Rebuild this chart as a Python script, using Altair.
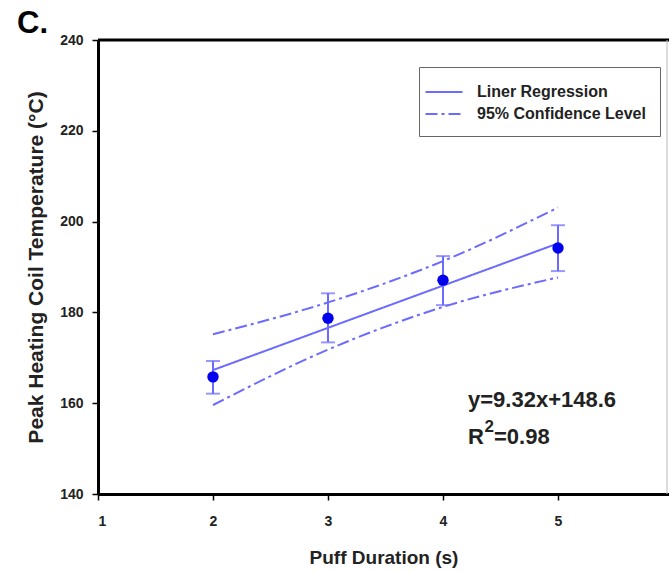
import altair as alt
import pandas as pd

# ---- data ----
puff_s = [2, 3, 4, 5]
temp_mean = [165.8, 178.7, 187.1, 194.2]
temp_lo = [162.1, 173.4, 181.6, 189.1]
temp_hi = [169.3, 184.2, 192.4, 199.2]

reg_x = [2, 5]
reg_y = [167.3, 195.2]

band_x = [2, 3, 4, 5]
band_upper = [175.2, 182.2, 191.3, 203.1]
band_lower = [159.6, 171.8, 181.2, 187.7]

series_names = ["Liner Regression", "95% Confidence Level"]
x_ticks = [1, 2, 3, 4, 5]
y_ticks = [140, 160, 180, 200, 220, 240]
y_top = [240]

# ---- tables ----
pts = pd.DataFrame({"x": puff_s, "y": temp_mean, "lo": temp_lo, "hi": temp_hi})
rows = []
for xv, yv in zip(reg_x, reg_y):
    rows.append({"x": xv, "y": yv, "series": series_names[0], "part": "reg"})
for xv, yv in zip(band_x, band_upper):
    rows.append({"x": xv, "y": yv, "series": series_names[1], "part": "upper"})
for xv, yv in zip(band_x, band_lower):
    rows.append({"x": xv, "y": yv, "series": series_names[1], "part": "lower"})
lines = pd.DataFrame(rows)
top_df = pd.DataFrame({"y": y_top})

W, H = 571, 454
FONT = "Liberation Sans"
LINE_C = "#6b6bff"
PT_C = "#0000ee"

xs = alt.Scale(domain=[1, 1 + W / 115.0], nice=False, zero=False)
ys = alt.Scale(domain=[140, 240], nice=False, zero=False)

x_enc = alt.X("x:Q", scale=xs, axis=alt.Axis(values=x_ticks, title="Puff Duration (s)", format="d"))
y_enc = alt.Y("y:Q", scale=ys, axis=alt.Axis(values=y_ticks, title="Peak Heating Coil Temperature (°C)"))

line_layer = alt.Chart(lines).mark_line(strokeWidth=2, color=LINE_C, interpolate="monotone").encode(
    x=x_enc,
    y=y_enc,
    detail="part:N",
    strokeDash=alt.StrokeDash(
        "series:N",
        scale=alt.Scale(domain=series_names, range=[[1, 0], [12, 4, 3, 4]]),
        legend=alt.Legend(
            title=None,
            orient="none",
            legendX=321,
            legendY=27,
            symbolType="M-1.85,0H1.85",
            symbolSize=400,
            symbolStrokeWidth=2,
            symbolStrokeColor=LINE_C,
            labelFont=FONT,
            labelFontSize=16,
            labelFontWeight="bold",
            labelColor="#222222",
            labelOffset=22,
            labelLimit=300,
            padding=14,
            rowPadding=3,
            strokeColor="#666666",
            fillColor="white",
        ),
    ),
)

err_rule = alt.Chart(pts).mark_rule(color=LINE_C, strokeWidth=2).encode(
    x=alt.X("x:Q", scale=xs), y=alt.Y("lo:Q", scale=ys), y2="hi:Q"
)
cap_lo = alt.Chart(pts).mark_tick(color=LINE_C, orient="horizontal", size=14, thickness=2).encode(
    x=alt.X("x:Q", scale=xs), y=alt.Y("lo:Q", scale=ys)
)
cap_hi = alt.Chart(pts).mark_tick(color=LINE_C, orient="horizontal", size=14, thickness=2).encode(
    x=alt.X("x:Q", scale=xs), y=alt.Y("hi:Q", scale=ys)
)
points = alt.Chart(pts).mark_point(filled=True, size=130, color=PT_C, opacity=1).encode(
    x=alt.X("x:Q", scale=xs), y=alt.Y("y:Q", scale=ys)
)

top_line = alt.Chart(top_df).mark_rule(color="black", strokeWidth=3).encode(y=alt.Y("y:Q", scale=ys))
right_line = alt.Chart(top_df).mark_rule(color="#bbbbbb", strokeWidth=1).encode(x=alt.value(W - 2))


def label(txt, px, py, size, color="#222222", font=FONT):
    return alt.Chart(top_df).mark_text(
        text=txt, font=font, fontSize=size, fontWeight="bold", color=color,
        align="left", baseline="alphabetic",
    ).encode(x=alt.value(px), y=alt.value(py))


panel = label("C.", -81, -7, 31, color="black")
eq1 = label("y=9.32x+148.6", 370, 367, 22)
eq_r = label("R", 370, 404, 22)
eq_2 = label("2", 386.5, 392, 17)
eq_rest = label("=0.98", 396, 404, 22)

chart = alt.layer(
    line_layer, err_rule, cap_lo, cap_hi, points, top_line, right_line,
    panel, eq1, eq_r, eq_2, eq_rest,
).properties(
    width=W,
    height=H,
    autosize=alt.AutoSizeParams(type="none"),
    padding={"left": 98, "top": 40, "right": 0, "bottom": 78},
).configure_view(stroke=None).configure_axis(
    grid=False,
    domainColor="black",
    domainWidth=3,
    tickColor="black",
    tickWidth=1.5,
    tickSize=6,
    labelFont=FONT,
    labelFontSize=14,
    labelFontWeight="bold",
    labelColor="#222222",
    titleFont=FONT,
    titleFontWeight="bold",
    titleColor="#222222",
).configure_axisX(
    labelPadding=14, titleFontSize=19, titlePadding=20
).configure_axisY(
    labelPadding=9, titleFontSize=21, titlePadding=13
)

chart.save("out.html", embed_options={"renderer": "svg", "actions": False})
